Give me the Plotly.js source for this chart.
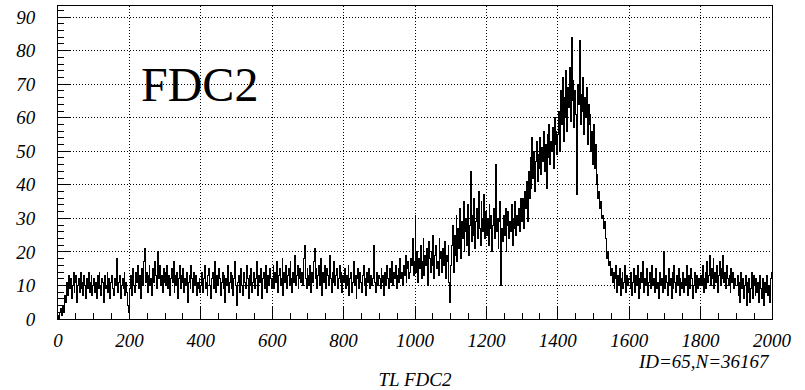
<!DOCTYPE html>
<html>
<head>
<meta charset="utf-8">
<script src="https://cdn.plot.ly/plotly-3.0.1.min.js"></script>
<style>
html,body{margin:0;padding:0;background:#fff;}
#chart{width:805px;height:390px;}
#chart .scatterlayer path.js-line{shape-rendering:crispEdges !important;}
#chart svg text{font-family:"Liberation Serif", serif !important;}
</style>
</head>
<body>
<div id="chart"></div>
<script>
// Histogram "TL FDC2": bin contents (bin width 2.5)
var binWidth = 2.5;
var blockStarts = [0,100,200,300,400,500,600,700,800,900,1000,1100,1200,1300,1400,1500,1600,1700,1800,1900];
var counts0000 = [1,0,2,3,1,4,2,7,5,9,11,7,13,9,12,6,10,14,8,11,13,5,10,12,8,14,9,11,7,13,10,6,12,9,14,8,11,13,7,10];
var counts0100 = [12,8,11,6,13,9,14,10,7,12,11,5,13,9,10,14,8,12,6,11,13,9,7,12,10,14,18,8,11,13,6,10,12,9,14,7,11,8,4,2];
var counts0200 = [9,13,7,12,15,10,8,14,11,16,9,13,6,12,15,10,17,21,11,14,8,13,16,10,12,7,15,11,17,13,9,14,20,12,16,10,13,8,15,11];
var counts0300 = [14,10,16,9,13,7,12,15,11,17,8,13,10,14,6,12,16,9,13,11,15,8,12,10,14,5,11,13,9,16,12,8,14,10,13,7,11,9,12,8];
var counts0400 = [10,14,8,12,16,9,11,7,13,15,10,6,12,14,9,17,11,8,13,10,15,12,7,11,14,9,13,5,12,10,16,8,11,14,9,13,7,12,17,10];
var counts0500 = [4,11,13,8,12,15,10,7,14,11,9,16,12,6,13,10,15,8,11,14,9,12,17,10,7,13,11,15,6,12,14,9,11,16,8,13,10,15,12,9];
var counts0600 = [12,16,9,14,11,17,8,13,15,10,12,18,7,14,11,16,9,13,15,10,17,12,8,14,11,19,10,13,16,9,12,15,11,14,10,18,22,12,9,15];
var counts0700 = [13,10,16,8,14,11,17,21,12,15,9,13,16,10,18,7,14,12,11,16,9,15,13,10,19,12,8,14,11,17,10,13,15,9,12,16,11,14,8,13];
var counts0800 = [11,15,9,13,10,16,7,12,14,8,11,17,10,13,6,12,15,9,14,11,8,13,16,10,12,7,14,11,15,9,13,10,12,16,22,11,8,14,10,13];
var counts0900 = [12,9,15,11,13,7,14,10,16,12,9,15,13,11,17,10,14,12,16,9,13,15,11,18,12,14,10,16,13,19,11,15,17,12,14,18,16,24,13,17];
var counts1000 = [31,14,20,11,18,15,22,12,17,24,13,19,16,21,10,23,18,14,20,16,25,12,19,22,15,17,13,24,18,20,14,21,16,23,12,19,17,22,11,5];
var counts1100 = [16,22,28,14,25,19,31,17,27,21,33,18,29,24,35,20,26,30,22,34,19,28,44,23,31,25,36,21,29,33,24,38,27,22,35,30,26,37,24,32];
var counts1200 = [25,30,22,34,27,31,20,28,33,24,46,26,30,21,29,35,10,27,23,31,25,33,20,28,32,24,29,26,34,22,30,27,35,25,31,28,33,26,36,29];
var counts1300 = [30,36,27,38,33,41,29,44,36,48,39,54,42,50,38,47,53,41,49,45,54,43,51,47,56,44,52,39,55,48,58,46,53,50,57,45,60,52,56,49];
var counts1400 = [55,62,50,68,58,72,53,66,60,74,56,69,63,75,59,84,65,71,57,68,61,37,70,64,83,58,67,62,72,55,66,60,69,52,64,58,61,50,56,46];
var counts1500 = [58,45,52,40,43,36,38,33,35,30,31,27,29,24,21,18,20,16,17,13,15,11,14,9,12,16,8,13,10,15,7,12,14,9,11,16,8,13,10,12];
var counts1600 = [12,9,14,7,11,15,8,13,10,16,6,12,9,14,11,17,8,12,10,15,13,7,11,14,9,16,10,12,8,13,15,9,11,6,14,10,12,8,20,11];
var counts1700 = [9,13,11,7,15,10,12,6,14,9,16,11,8,13,10,15,7,12,11,9,14,8,12,10,16,7,13,11,9,15,12,6,10,14,8,13,11,9,12,10];
var counts1800 = [13,10,16,8,12,14,9,17,11,13,19,10,15,12,18,9,14,11,16,8,13,17,10,15,12,19,11,14,9,16,12,10,13,8,15,11,14,9,12,10];
var counts1900 = [10,13,7,11,5,14,9,12,6,10,13,4,11,8,12,5,9,14,6,13,10,7,12,8,11,5,13,9,6,12,10,4,11,8,13,7,10,5,12,14];

var xTicks = [0,200,400,600,800,1000,1200,1400,1600,1800,2000];
var yTicks = [0,10,20,30,40,50,60,70,80,90];
var histLabel = "FDC2";
var xTitle = "TL FDC2";
var statsText = "ID=65,N=36167";

var blocks = [counts0000,counts0100,counts0200,counts0300,counts0400,counts0500,counts0600,
  counts0700,counts0800,counts0900,counts1000,counts1100,counts1200,counts1300,counts1400,
  counts1500,counts1600,counts1700,counts1800,counts1900];

// step outline: left edge of each bin, plus the closing right edge
var xs = [], ys = [];
for (var b = 0; b < blocks.length; b++) {
  for (var j = 0; j < blocks[b].length; j++) {
    xs.push(blockStarts[b] + j*binWidth); ys.push(blocks[b][j]);
  }
}
var lastBlock = blocks[blocks.length-1];
xs.push(blockStarts[blocks.length-1] + lastBlock.length*binWidth); ys.push(lastBlock[lastBlock.length-1]);

var serif = "Liberation Serif";
function tickFont() { return {family: serif, size: 19, style: "italic", color: "#000"}; }

var trace = {
  x: xs, y: ys, type: "scatter", mode: "lines",
  line: {shape: "hv", color: "#000", width: 1},
  hoverinfo: "skip", showlegend: false
};

var layout = {
  width: 805, height: 390,
  margin: {l: 58, r: 33, t: 6, b: 71, pad: 0},
  paper_bgcolor: "#fff", plot_bgcolor: "#fff",
  showlegend: false,
  xaxis: {
    range: [0, 2000], tickvals: xTicks,
    ticks: "inside", ticklen: 12, tickwidth: 1, tickcolor: "#000",
    minor: {dtick: 50, tick0: 0, ticks: "inside", ticklen: 6, tickcolor: "#000", showgrid: false},
    showgrid: true, gridcolor: "#000", gridwidth: 1, griddash: "1px,2px",
    zeroline: false, showline: true, mirror: true, linecolor: "#000", linewidth: 1,
    tickfont: tickFont(), ticklabelstandoff: 4,
    title: {text: xTitle, font: tickFont(), standoff: 24},
    automargin: false, fixedrange: true
  },
  yaxis: {
    range: [0, 93.3], tickvals: yTicks,
    ticks: "inside", ticklen: 12, tickwidth: 1, tickcolor: "#000",
    minor: {dtick: 2, tick0: 0, ticks: "inside", ticklen: 6, tickcolor: "#000", showgrid: false},
    showgrid: true, gridcolor: "#000", gridwidth: 1, griddash: "1px,2px",
    zeroline: false, showline: true, mirror: true, linecolor: "#000", linewidth: 1,
    tickfont: tickFont(), ticklabelstandoff: 18,
    automargin: false, fixedrange: true
  },
  annotations: [
    {text: histLabel, xref: "paper", yref: "paper", x: 0.198, y: 0.75,
     xanchor: "center", yanchor: "middle", showarrow: false,
     font: {family: serif, size: 48, color: "#000"}},
    {text: statsText, xref: "paper", yref: "paper", x: 1.0, y: -0.135,
     xanchor: "right", yanchor: "middle", showarrow: false,
     font: tickFont()}
  ]
};

Plotly.newPlot("chart", [trace], layout, {displayModeBar: false});
</script>
</body>
</html>
